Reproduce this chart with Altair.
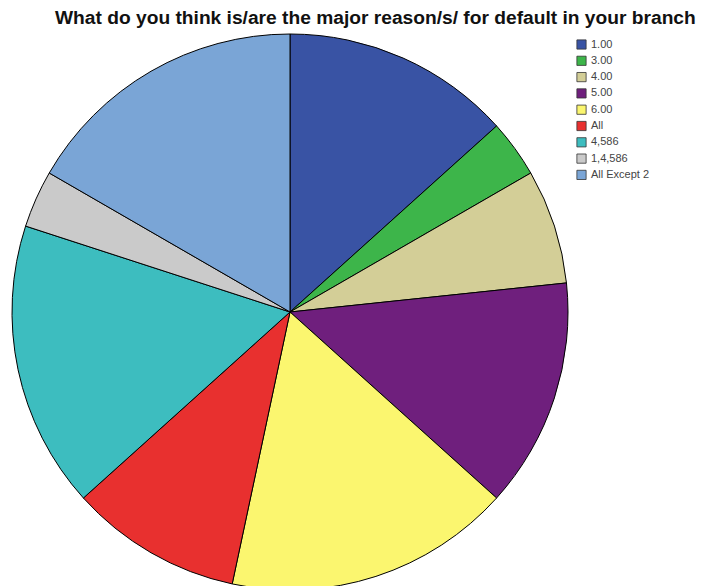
import altair as alt
import pandas as pd

categories = ["1.00", "3.00", "4.00", "5.00", "6.00", "All", "4,586", "1,4,586", "All Except 2"]
counts = [4, 1, 2, 4, 5, 3, 5, 1, 5]
colors = ["#3953A4", "#3DB54A", "#D3CE97", "#6F1F7D", "#FBF66F", "#E8302F", "#3DBDBF", "#CACACA", "#7AA5D6"]
title_text = "What do you think is/are the major reason/s/ for default in your branch"

df = pd.DataFrame({"category": categories, "count": counts, "order": list(range(len(categories)))})

pie = alt.Chart(df).mark_arc(outerRadius=278, stroke="black", strokeWidth=1).encode(
    theta=alt.Theta("count:Q", stack=True),
    order=alt.Order("order:Q"),
    color=alt.Color(
        "category:N",
        sort=categories,
        scale=alt.Scale(domain=categories, range=colors),
        legend=alt.Legend(
            title=None,
            orient="none",
            legendX=576,
            legendY=39,
            symbolType="square",
            symbolSize=85,
            symbolStrokeColor="#333",
            symbolStrokeWidth=0.8,
            labelFont="Liberation Sans",
            labelFontSize=11,
            labelColor="#444",
            rowPadding=3.3,
            labelOffset=4,
        ),
    ),
    x=alt.value(290),
    y=alt.value(312),
)

title = alt.Chart(pd.DataFrame({"t": [title_text]})).mark_text(
    font="Liberation Sans", fontSize=19.2, fontWeight="bold", align="left", baseline="middle", color="#111"
).encode(text="t:N", x=alt.value(55), y=alt.value(18))

chart = alt.layer(pie, title).properties(
    width=701, height=586, autosize=alt.AutoSizeParams(type="none"), padding=0
).configure_view(stroke=None)

chart.save("out.html", embed_options={"renderer": "svg", "actions": False})
